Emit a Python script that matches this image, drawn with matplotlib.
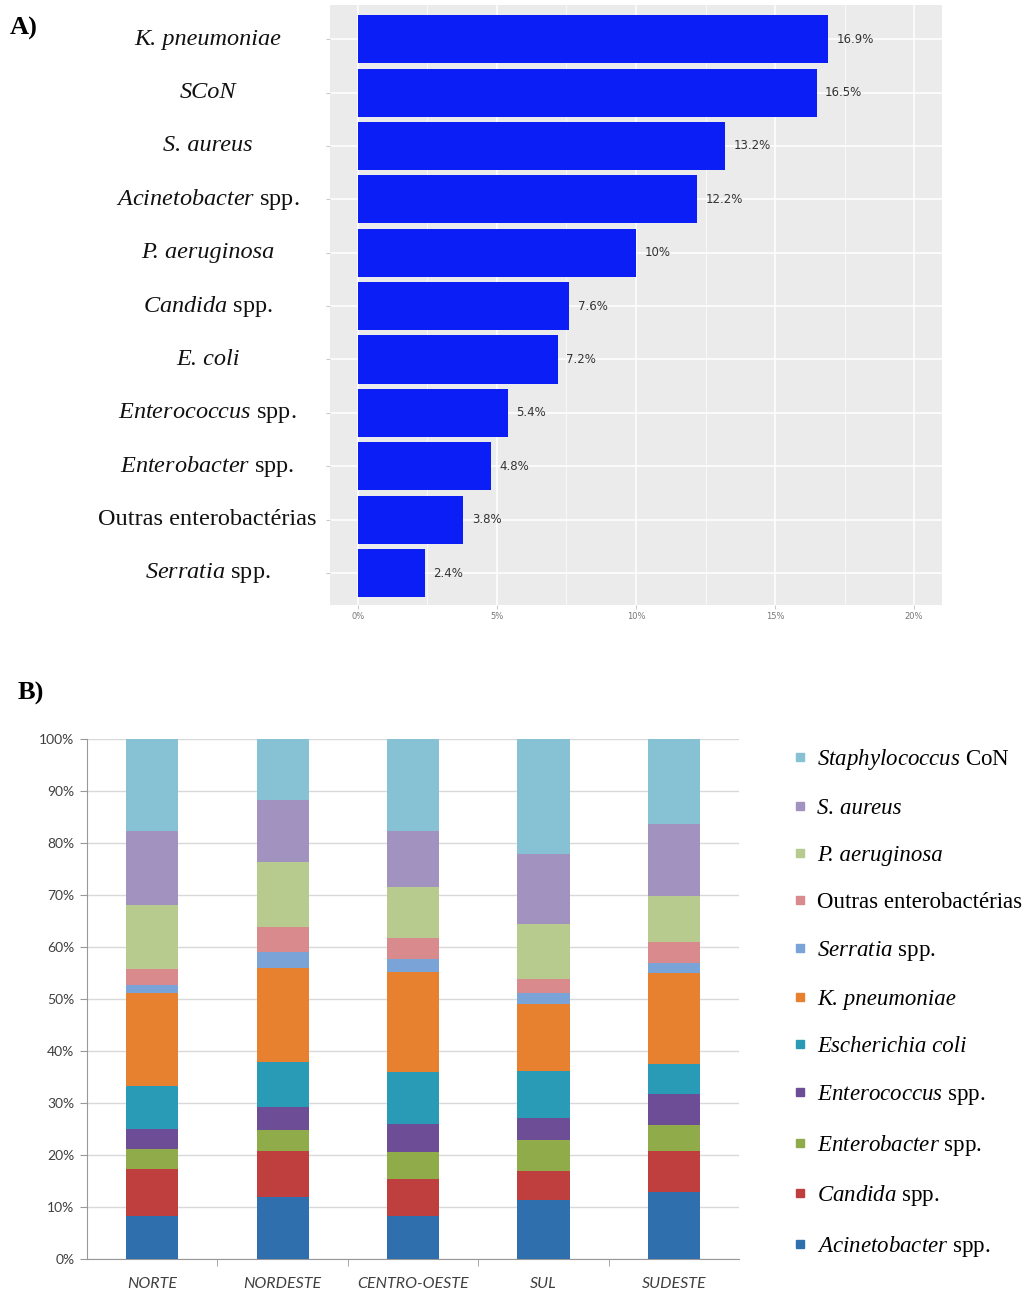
import matplotlib
matplotlib.use("Agg")
import matplotlib.pyplot as plt
from matplotlib.lines import Line2D
import numpy as np

plt.rcParams['mathtext.fontset'] = 'custom'
plt.rcParams['mathtext.rm'] = 'Liberation Serif'
plt.rcParams['mathtext.it'] = 'Liberation Serif:italic'

# Painel A - frequencia geral
org_a = ['K. pneumoniae', 'SCoN', 'S. aureus',
         r'$\mathit{Acinetobacter}$ spp.', 'P. aeruginosa',
         r'$\mathit{Candida}$ spp.', 'E. coli',
         r'$\mathit{Enterococcus}$ spp.', r'$\mathit{Enterobacter}$ spp.',
         'Outras enterobactérias', r'$\mathit{Serratia}$ spp.']
italico_a = [True, True, True, False, True, False, True, False, False, False, False]
pct_a = [16.9, 16.5, 13.2, 12.2, 10, 7.6, 7.2, 5.4, 4.8, 3.8, 2.4]
ticks_a = [0, 5, 10, 15, 20]

# Painel B - distribuicao por regiao (de baixo para cima)
regioes = ['NORTE', 'NORDESTE', 'CENTRO-OESTE', 'SUL', 'SUDESTE']
org_b = [r'$\mathit{Acinetobacter}$ spp.', r'$\mathit{Candida}$ spp.',
         r'$\mathit{Enterobacter}$ spp.', r'$\mathit{Enterococcus}$ spp.',
         'Escherichia coli', 'K. pneumoniae',
         r'$\mathit{Serratia}$ spp.', 'Outras enterobactérias',
         'P. aeruginosa', 'S. aureus',
         r'$\mathit{Staphylococcus}$ CoN']
italico_b = [False, False, False, False, True, True, False, False, True, True, False]
acinetobacter = [8.3, 12.0, 8.3, 11.3, 12.8]
candida = [9.1, 8.8, 7.1, 5.7, 7.9]
enterobacter = [3.8, 4.1, 5.1, 5.8, 5.0]
enterococcus = [3.9, 4.3, 5.4, 4.3, 6.1]
ecoli = [8.1, 8.6, 10.0, 9.1, 5.8]
kpneumoniae = [18.0, 18.2, 19.3, 12.8, 17.5]
serratia = [1.5, 3.1, 2.5, 2.2, 1.9]
outras = [3.1, 4.8, 4.1, 2.7, 4.0]
paeruginosa = [12.2, 12.5, 9.8, 10.5, 8.9]
saureus = [14.4, 11.8, 10.8, 13.5, 13.7]
scon = [17.6, 11.8, 17.6, 22.1, 16.4]
series_b = [acinetobacter, candida, enterobacter, enterococcus, ecoli, kpneumoniae,
            serratia, outras, paeruginosa, saureus, scon]
cores_b = ['#2f6fae', '#be3f3d', '#8fab4a', '#6d4d96', '#2a9bb6', '#e8812f',
           '#7aa3d8', '#d98a8c', '#b7cb8e', '#a292c0', '#86c1d4']

fig = plt.figure(figsize=(10.35, 12.92), dpi=100)

# ---------- A ----------
ax1 = fig.add_axes([0.3188, 0.5317, 0.5913, 0.4644])
ax1.set_facecolor('#ebebeb')
y = np.arange(len(pct_a))
ax1.barh(y, pct_a, height=0.9, color='#0a1ef5', zorder=3)
for yi, v in zip(y, pct_a):
    ax1.text(v + 0.3, yi, '{:g}%'.format(v), va='center', ha='left',
             fontsize=8.5, color='#333333', zorder=4)
ax1.set_xlim(-1, 21)
ax1.set_ylim(len(pct_a) - 0.4, -0.64)
ax1.set_xticks(ticks_a)
ax1.set_xticklabels(['{}%'.format(t) for t in ticks_a], fontsize=6, color='#777777')
ax1.set_xticks([2.5, 7.5, 12.5, 17.5], minor=True)
ax1.set_yticks(y)
ax1.set_yticklabels([])
for yi, lab, it in zip(y, org_a, italico_a):
    ax1.text(-0.2, yi, lab, transform=ax1.get_yaxis_transform(), ha='center',
             va='center', fontsize=17.5, family='Liberation Serif',
             style='italic' if it else 'normal', color='#111111')
ax1.grid(True, which='major', color='white', linewidth=1.1, zorder=0)
ax1.grid(True, which='minor', axis='x', color='white', linewidth=0.5, zorder=0)
ax1.tick_params(axis='both', which='both', length=3, color='#cccccc', pad=2)
ax1.tick_params(axis='x', which='minor', length=0)
for s in ax1.spines.values():
    s.set_visible(False)

fig.text(10 / 1035, 1 - 28 / 1292, 'A)', fontsize=19, fontweight='bold',
         family='Liberation Serif', va='center', ha='left')

# ---------- B ----------
ax2 = fig.add_axes([0.0841, 0.0255, 0.630, 0.4025])
x = np.arange(len(regioes))
base = np.zeros(len(regioes))
handles = []
for vals, cor, lab in zip(series_b, cores_b, org_b):
    ax2.bar(x, vals, width=0.4, bottom=base, color=cor, zorder=3)
    base += np.array(vals)
    handles.append(Line2D([], [], marker='s', linestyle='', markersize=6,
                          color=cor, label=lab))
ax2.set_xlim(-0.5, len(regioes) - 0.5)
ax2.set_ylim(0, 100)
ax2.set_yticks(np.arange(0, 101, 10))
ax2.set_yticklabels(['{}%'.format(t) for t in range(0, 101, 10)], fontsize=10,
                    color='#404040', family='Lato')
ax2.set_xticks(x)
ax2.set_xticklabels(regioes, fontsize=11.5, color='#404040', family='Lato',
                    style='italic')
ax2.set_xticks(np.arange(0.5, len(regioes) - 0.5, 1), minor=True)
ax2.tick_params(axis='x', which='major', length=0, pad=13)
ax2.tick_params(axis='x', which='minor', length=5, color='#999999', direction='out')
ax2.tick_params(axis='y', length=5, color='#999999', pad=4)
ax2.grid(True, axis='y', color='#d9d9d9', linewidth=1, zorder=0)
for s in ['top', 'right']:
    ax2.spines[s].set_visible(False)
for s in ['left', 'bottom']:
    ax2.spines[s].set_color('#999999')

leg = fig.legend(handles=handles[::-1], loc='upper left',
                 bbox_to_anchor=(784 / 1035, 1 - 738 / 1292), frameon=False,
                 prop={'family': 'Liberation Serif', 'size': 16.5}, labelspacing=1.13,
                 handlelength=0.6, handletextpad=0.45, borderaxespad=0)
for txt, it in zip(leg.get_texts(), italico_b[::-1]):
    if it:
        txt.set_style('italic')

fig.text(18 / 1035, 1 - 693 / 1292, 'B)', fontsize=19, fontweight='bold',
         family='Liberation Serif', va='center', ha='left')

fig.savefig('out.png', dpi=100)
